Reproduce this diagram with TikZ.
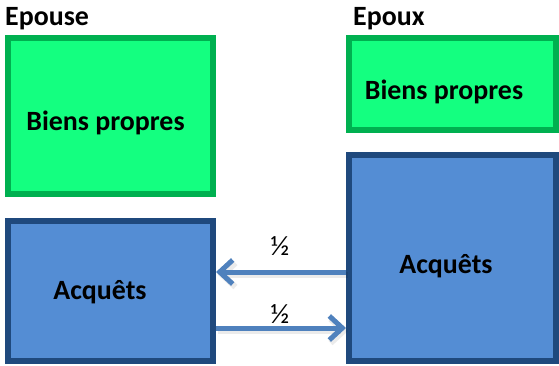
\documentclass[tikz,border=0pt]{standalone}
\usepackage{fontspec}
\setmainfont{Carlito}
\usetikzlibrary{arrows.meta}

\definecolor{vertfond}{RGB}{20,255,128}
\definecolor{vertbord}{RGB}{0,176,80}
\definecolor{bleufond}{RGB}{84,141,212}
\definecolor{bleubord}{RGB}{31,73,125}
\definecolor{bleufleche}{RGB}{79,129,189}

\tikzset{
  propres/.style={draw=vertbord,fill=vertfond,line width=6bp,inner sep=0pt},
  acquets/.style={draw=bleubord,fill=bleufond,line width=6bp,inner sep=0pt},
  titre/.style={anchor=base west,inner sep=0pt,font=\fontsize{28}{32}\selectfont\bfseries},
  texte/.style={anchor=base,inner sep=0pt,font=\fontsize{28}{32}\selectfont\bfseries},
  moitie/.style={anchor=base,inner sep=0pt,font=\fontsize{28}{32}\selectfont},
  fleche/.style={draw=bleufleche,line width=5bp,
    -{Straight Barb[length=13bp,width=24bp]}},
  ombre/.style={draw=black,opacity=.08,line width=6bp,
    -{Straight Barb[length=13bp,width=24bp]}}
}

\begin{document}
\begin{tikzpicture}[x=1bp,y=-1bp]
  \useasboundingbox (0,0) rectangle (559,365);
%%
  % Node: epouse
  \node [titre] (epouse) at (5,25) {Epouse};
  \node [propres,minimum width=205bp,minimum height=156bp] (bpL) at (110.5,116) {};
  \node [texte] (bpLtxt) at (105.5,130) {Biens propres};
  \node [acquets,minimum width=205bp,minimum height=140bp] (acqL) at (110.5,291) {};
  \node [texte] (acqLtxt) at (100,299) {Acquêts};
  % Node: epoux
  \node [titre] (epoux) at (353,25) {Epoux};
  \node [propres,minimum width=207bp,minimum height=92bp] (bpR) at (452.5,84) {};
  \node [texte] (bpRtxt) at (444,99) {Biens propres};
  \node [acquets,minimum width=207bp,minimum height=206bp] (acqR) at (452.5,258) {};
  \node [texte] (acqRtxt) at (446,273) {Acquêts};
%%
  % Edge: acqR -- acqL
  \draw [ombre,transform canvas={shift={(2bp,-3bp)}}] (acqR.west |- 0,272) -- (acqL.east |- 0,272);
  \draw [fleche] (acqR.west |- 0,272) -- (acqL.east |- 0,272);
  \node [moitie] (demi1) at (280,255) {½};
  % Edge: acqL -- acqR
  \draw [ombre,transform canvas={shift={(2bp,-3bp)}}] (acqL.east |- 0,328) -- (acqR.west |- 0,328);
  \draw [fleche] (acqL.east |- 0,328) -- (acqR.west |- 0,328);
  \node [moitie] (demi2) at (280,323) {½};
%
\end{tikzpicture}
\end{document}
